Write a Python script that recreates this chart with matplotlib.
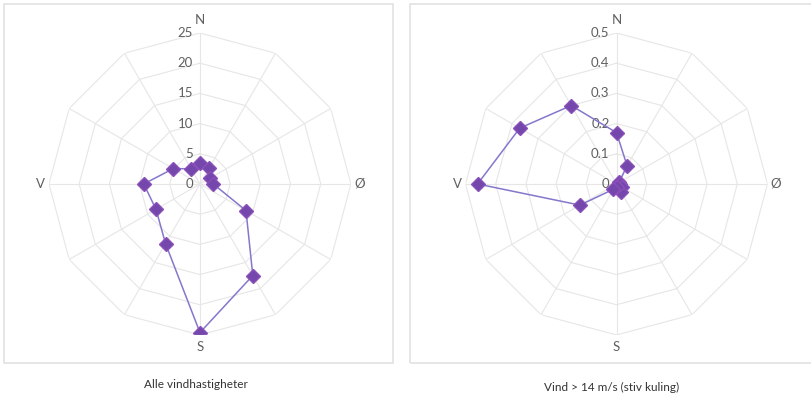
import matplotlib.pyplot as plt
import numpy as np
from matplotlib.patches import Rectangle

# directions, clockwise from north (degrees)
directions = [0, 30, 60, 90, 120, 150, 180, 210, 240, 270, 300, 330]
compass = {0: "N", 90: "Ø", 180: "S", 270: "V"}

# share of time per direction
alle = [3.4, 3.0, 1.9, 2.2, 8.8, 17.5, 24.6, 11.4, 8.4, 9.3, 5.1, 2.9]
kuling = [0.17, 0.07, 0.01, 0.01, 0.02, 0.03, 0.01, 0.02, 0.14, 0.46, 0.37, 0.30]

alle_ticks = [0, 5, 10, 15, 20, 25]
kuling_ticks = [0, 0.1, 0.2, 0.3, 0.4, 0.5]
alle_labels = ["0", "5", "10", "15", "20", "25"]
kuling_labels = ["0", "0.1", "0.2", "0.3", "0.4", "0.5"]

titles = ["Alle vindhastigheter", "Vind > 14 m/s (stiv kuling)"]

plt.rcParams['font.family'] = ['Lato', 'DejaVu Sans']
txt_col = "#606060"
grid_col = "#e6e6e6"
line_col = "#8577cc"
mark_col = "#7447ad"

fig = plt.figure(figsize=(8.12, 3.96), dpi=100)

# panel frames
fig.patches.append(Rectangle((4 / 812, 1 - 363 / 396), 389 / 812, 359 / 396,
                             transform=fig.transFigure, fill=False,
                             edgecolor="#e2e2e2", lw=1.2))
fig.patches.append(Rectangle((410 / 812, 1 - 363 / 396), 410 / 812, 359 / 396,
                             transform=fig.transFigure, fill=False,
                             edgecolor="#e2e2e2", lw=1.2))


def radar(rect, values, ticks, labels, title, title_x, title_y):
    ax = fig.add_axes(rect, projection='polar')
    ax.set_theta_zero_location('N')
    ax.set_theta_direction(-1)
    ax.set_ylim(0, ticks[-1])
    ax.axis('off')

    th = np.deg2rad(directions + [directions[0]])
    # polygon grid
    for r in ticks[1:]:
        ax.plot(th, [r] * len(th), color=grid_col, lw=0.8, zorder=1)
    for d in directions:
        ax.plot([np.deg2rad(d)] * 2, [0, ticks[-1]], color=grid_col, lw=0.8, zorder=1)

    # radial tick labels along north spoke
    for r, lab in zip(ticks, labels):
        ax.annotate(lab, (0, r), xytext=(-5, 0), textcoords='offset points',
                    ha='right', va='center', fontsize=9.5, color=txt_col)

    # compass labels
    offs = {0: (0, 9.5), 90: (6, 0), 180: (0, -9), 270: (-6, 0)}
    for d, lab in compass.items():
        ax.annotate(lab, (np.deg2rad(d), ticks[-1]), xytext=offs[d],
                    textcoords='offset points', ha='center', va='center',
                    fontsize=9.5, color=txt_col, annotation_clip=False)

    v = list(values) + [values[0]]
    ax.plot(th, v, color=line_col, lw=1.1, zorder=3)
    ax.plot(th[:-1], values, linestyle='none', marker='D', markersize=7,
            color=mark_col, markeredgecolor="#8a4fb8", zorder=4)

    fig.text(title_x, title_y, title, ha='center', va='center',
             fontsize=8.5, color="#333333")


radar([0.0603, 0.1541, 0.3719, 0.7626], alle, alle_ticks, alle_labels,
      titles[0], 196 / 812, 1 - 385 / 396)
radar([0.5733, 0.1541, 0.3719, 0.7626], kuling, kuling_ticks, kuling_labels,
      titles[1], 612 / 812, 1 - 387 / 396)

fig.savefig("out.png", dpi=100)
